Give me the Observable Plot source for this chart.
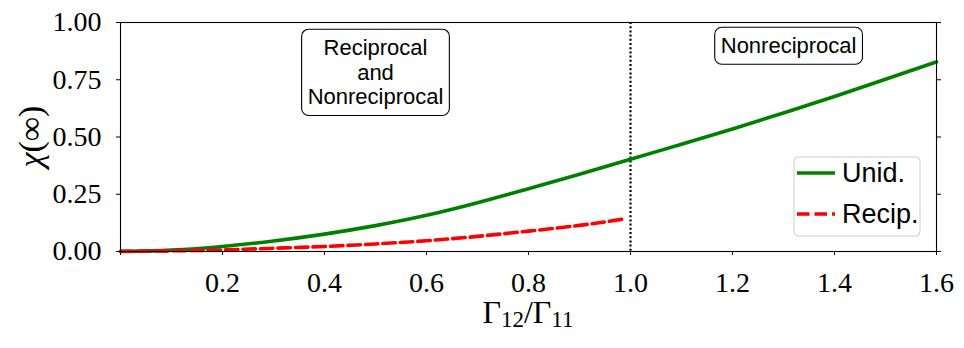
<!DOCTYPE html>
<html><head><meta charset="utf-8">
<script src="https://cdn.jsdelivr.net/npm/d3@7"></script>
<script src="https://cdn.jsdelivr.net/npm/@observablehq/plot@0.6"></script>
<style>body{margin:0;background:#fff} svg{display:block}</style>
</head><body><div id="chart"></div>
<script>
// ---- data ----
const unidX = [0,0.1,0.2,0.3,0.4,0.5,0.6,0.7,0.8,0.9,1.0,1.1,1.2,1.3,1.4,1.5,1.6];
const unidY = [0,0.006,0.022,0.046,0.076,0.113,0.158,0.213,0.274,0.337,0.403,0.468,0.535,0.605,0.677,0.752,0.828];
const recipX = [0,0.1,0.2,0.3,0.4,0.5,0.6,0.7,0.8,0.9,0.985];
const recipY = [0.001,0.003,0.007,0.014,0.022,0.033,0.047,0.066,0.089,0.114,0.141];
const xTicks = [0,0.2,0.4,0.6,0.8,1.0,1.2,1.4,1.6];
const xTickLabels = ["","0.2","0.4","0.6","0.8","1.0","1.2","1.4","1.6"];
const yTicks = [0,0.25,0.5,0.75,1];
const yTickLabels = ["0.00","0.25","0.50","0.75","1.00"];
const boundaryX = [1.0];
const regionX = [0.5, 1.31];
const regionY = [0.784, 0.9];
const regionText = ["Reciprocal\nand\nNonreciprocal", "Nonreciprocal"];
const seriesNames = ["Unid.", "Recip."];
const seriesColors = ["green", "red"];

const unid = unidX.map((x,i)=>({x, y: unidY[i]}));
const recip = recipX.map((x,i)=>({x, y: recipY[i]}));
const regions = regionX.map((x,i)=>({x, y: regionY[i], text: regionText[i]}));

const serif = "'Liberation Serif', 'DejaVu Serif', serif";
const sans = "'Liberation Sans', Arial, sans-serif";

const plot = Plot.plot({
  width: 964, height: 348,
  marginLeft: 120, marginRight: 28, marginTop: 22, marginBottom: 97,
  x: {domain: [0,1.6]},
  y: {domain: [0,1]},
  style: {fontFamily: serif, fontSize: "28px", color: "black", background: "white"},
  marks: [
    Plot.ruleX(boundaryX, {stroke: "black", strokeWidth: 2.2, strokeDasharray: "2,2.2"}),
    Plot.line(unid, {x: "x", y: "y", stroke: seriesColors[0], strokeWidth: 3.6, curve: "natural"}),
    Plot.line(recip, {x: "x", y: "y", stroke: seriesColors[1], strokeWidth: 3.6, strokeDasharray: "12.5,5", curve: "natural"}),
    Plot.frame({stroke: "black", strokeWidth: 1.1}),
    Plot.axisX({ticks: xTicks, tickFormat: d => xTickLabels[xTicks.indexOf(d)], tickSize: 4, tickPadding: 17, label: null, fontSize: 28, fontFamily: serif}),
    Plot.axisY({ticks: yTicks, tickFormat: d => yTickLabels[yTicks.indexOf(d)], tickSize: 4, tickPadding: 15, label: null, fontSize: 28, fontFamily: serif}),
    Plot.axisY({anchor: "right", ticks: yTicks, tickFormat: () => "", tickSize: 4, label: null}),
    Plot.text(regions, {x: "x", y: "y", text: "text", fontFamily: sans, fontSize: 22, lineHeight: 1.12, fill: "black"})
  ]
});
document.getElementById("chart").appendChild(plot);

const svg = d3.select(plot);
const xs = plot.scale("x"), ys = plot.scale("y");
const [fx0, fx1] = xs.range, [fy0, fy1] = ys.range; // fy0 bottom, fy1 top

// rounded boxes behind region labels
svg.selectAll("g[aria-label='text'] text").each(function() {
  const b = this.getBBox();
  const px = 6, py = 6;
  const r = d3.select(this.parentNode).insert("rect", () => this)
    .attr("x", b.x - px).attr("y", b.y - py)
    .attr("width", b.width + 2*px).attr("height", b.height + 2*py)
    .attr("rx", 7).attr("ry", 7)
    .attr("fill", "white").attr("stroke", "black").attr("stroke-width", 1.1);
  const t = this.getAttribute("transform");
  if (t) r.attr("transform", t);
});

// axis labels
const xl = svg.append("text").attr("x", (fx0+fx1)/2).attr("y", 323)
  .attr("text-anchor", "middle").attr("font-family", serif).attr("font-size", 32).attr("fill", "black");
xl.append("tspan").text("Γ");
xl.append("tspan").attr("font-size", 23).attr("dy", 4).text("12");
xl.append("tspan").attr("dy", -4).text("/Γ");
xl.append("tspan").attr("font-size", 23).attr("dy", 4).text("11");

const yl = svg.append("text").attr("transform", `translate(42,${(fy0+fy1)/2}) rotate(-90)`)
  .attr("text-anchor", "middle").attr("font-family", serif).attr("font-size", 34).attr("fill", "black");
yl.append("tspan").attr("font-style", "italic").text("χ");
yl.append("tspan").text("(∞)");

// legend (lower right)
const lg = svg.append("g");
const lw = 126, lh = 79;
const lx = fx1 - 16 - lw, ly = fy0 - 15 - lh;
lg.append("rect").attr("x", lx).attr("y", ly).attr("width", lw).attr("height", lh)
  .attr("rx", 4).attr("fill", "white").attr("fill-opacity", 0.8).attr("stroke", "#cccccc").attr("stroke-width", 1);
seriesNames.forEach((name, i) => {
  const cy = ly + 16 + i*41;
  lg.append("line").attr("x1", lx + 3).attr("x2", lx + 41).attr("y1", cy).attr("y2", cy)
    .attr("stroke", seriesColors[i]).attr("stroke-width", 3.6)
    .attr("stroke-dasharray", i === 1 ? "12.5,5" : null);
  lg.append("text").attr("x", lx + 48).attr("y", cy).attr("dy", "0.35em")
    .attr("text-anchor", "start")
    .attr("font-family", sans).attr("font-size", 27).attr("fill", "black").text(name);
});
</script>
</body></html>
